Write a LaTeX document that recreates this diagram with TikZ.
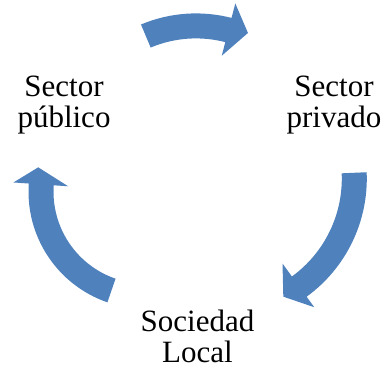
\documentclass[tikz,border=0pt]{standalone}
\usepackage{fontspec}
\setmainfont{Liberation Serif}
\definecolor{arrowblue}{RGB}{79,129,189}
\begin{document}
\begin{tikzpicture}[x=1pt,y=1pt,
  cyclelabel/.style={inner sep=0pt, align=center, font=\fontsize{31}{31}\selectfont, text=black},
  cyclearrow/.style={fill=arrowblue, draw=none}]
\useasboundingbox (0,0) rectangle (383,370);
% labels
\node[cyclelabel] (pub) at (64,264.5) {Sector\\público};
\node[cyclelabel] (priv) at (334,264.5) {Sector\\privado};
\node[cyclelabel] (soc) at (197.5,34) {Sociedad\\Local};
% top arrow: público -> privado
\fill[cyclearrow, shift={(196,214.6)}]
  (112.8:142) arc[start angle=112.8, end angle=75.5, radius=142]
  -- (75.5:157) -- (67:133) -- (75.5:103) -- (75.5:117)
  arc[start angle=75.5, end angle=112.8, radius=117] -- cycle;
% right arrow: privado -> sociedad
\fill[cyclearrow, shift={(220.8,191.4)}]
  (2.5:146) arc[start angle=2.5, end angle=-54, radius=146]
  -- (-54:159) -- (-62.1:133.6) -- (-54:105) -- (-54:121)
  arc[start angle=-54, end angle=2.5, radius=121] -- cycle;
% left arrow: sociedad -> público
\fill[cyclearrow, shift={(145.5,178.3)}]
  (251:117) arc[start angle=251, end angle=176, radius=117]
  -- (176:132.4) -- (167.2:110) -- (176:77.5) -- (176:92)
  arc[start angle=176, end angle=251, radius=92] -- cycle;
\end{tikzpicture}
\end{document}
